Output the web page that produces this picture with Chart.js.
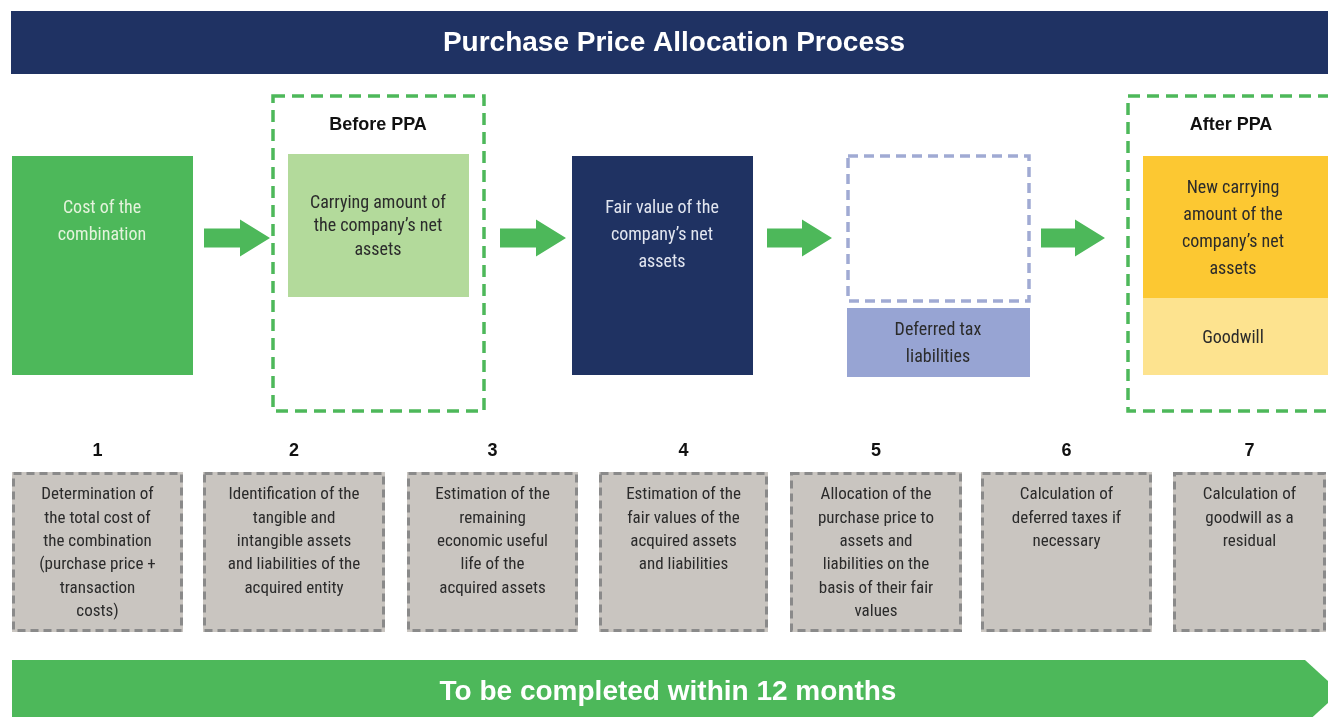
<!DOCTYPE html>
<html>
<head>
<meta charset="utf-8">
<script src="https://cdn.jsdelivr.net/npm/chart.js@4/dist/chart.umd.min.js"></script>
<style>
  html, body { margin: 0; padding: 0; background: #fff; }
  #container { width: 1328px; height: 717px; }
</style>
</head>
<body>
<div id="container">
  <canvas id="myChart"></canvas>
</div>
<script>
// texts of the diagram
const title = 'Purchase Price Allocation Process'
const footer = 'To be completed within 12 months'
const groupLabels = ['Before PPA', 'After PPA']
const stageLabels = [
  ['Cost of the', 'combination'],
  ['Carrying amount of', 'the company\u2019s net', 'assets'],
  ['Fair value of the', 'company\u2019s net', 'assets'],
  ['Deferred tax', 'liabilities'],
  ['New carrying', 'amount of the', 'company\u2019s net', 'assets'],
  ['Goodwill']
]
const stepNumbers = ['1', '2', '3', '4', '5', '6', '7']
const stepTexts = [
  ['Determination of', 'the total cost of', 'the combination', '(purchase price +', 'transaction', 'costs)'],
  ['Identification of the', 'tangible and', 'intangible assets', 'and liabilities of the', 'acquired entity'],
  ['Estimation of the', 'remaining', 'economic useful', 'life of the', 'acquired assets'],
  ['Estimation of the', 'fair values of the', 'acquired assets', 'and liabilities'],
  ['Allocation of the', 'purchase price to', 'assets and', 'liabilities on the', 'basis of their fair', 'values'],
  ['Calculation of', 'deferred taxes if', 'necessary'],
  ['Calculation of', 'goodwill as a', 'residual']
]

// layout (diagram units, same as the picture)
const stepX = [[12, 183], [203, 385], [407, 578], [599, 768], [790, 962], [981, 1152], [1173, 1326]]
const arrowX = [[204, 270], [500, 566], [767, 832], [1041, 1105]]
const NARROW = '"Liberation Sans Narrow", "Arial Narrow", "Roboto Condensed", sans-serif'
const BOLD = '"Liberation Sans", Arial, sans-serif'
const GREEN = '#4db85a'

const diagram = {
  id: 'diagram',
  afterDraw(chart) {
    const ctx = chart.ctx
    const xs = chart.scales.x, ys = chart.scales.y
    const X = v => xs.getPixelForValue(v)
    const Y = v => ys.getPixelForValue(v)

    const rect = (x0, y0, x1, y1, fill) => {
      ctx.fillStyle = fill
      ctx.fillRect(X(x0), Y(y0), X(x1) - X(x0), Y(y1) - Y(y0))
    }
    const dashed = (x0, y0, x1, y1, color, dash, width) => {
      ctx.save()
      ctx.strokeStyle = color
      ctx.lineWidth = width
      ctx.setLineDash(dash)
      ctx.strokeRect(X(x0), Y(y0), X(x1) - X(x0), Y(y1) - Y(y0))
      ctx.restore()
    }
    const lines = (arr, cx, y0, lh, font, color) => {
      ctx.font = font
      ctx.fillStyle = color
      ctx.textAlign = 'center'
      ctx.textBaseline = 'middle'
      arr.forEach((t, i) => ctx.fillText(t, X(cx), Y(y0 + i * lh)))
    }
    const arrow = (x0, x1, cy) => {
      const head = 30
      ctx.fillStyle = GREEN
      ctx.beginPath()
      ctx.moveTo(X(x0), Y(cy - 9.5))
      ctx.lineTo(X(x1 - head), Y(cy - 9.5))
      ctx.lineTo(X(x1 - head), Y(cy - 18.5))
      ctx.lineTo(X(x1), Y(cy))
      ctx.lineTo(X(x1 - head), Y(cy + 18.5))
      ctx.lineTo(X(x1 - head), Y(cy + 9.5))
      ctx.lineTo(X(x0), Y(cy + 9.5))
      ctx.closePath()
      ctx.fill()
    }

    ctx.save()
    // title band
    rect(11, 11, 1328, 74, '#1f3263')
    ctx.font = 'bold 28px ' + BOLD
    ctx.fillStyle = '#ffffff'
    ctx.textAlign = 'center'
    ctx.textBaseline = 'middle'
    ctx.fillText(title, X(674), Y(43))

    // top row
    rect(12, 156, 193, 375, GREEN)
    lines(stageLabels[0], 102, 208, 27, '18px ' + NARROW, '#e4f3dc')

    dashed(273, 96, 484, 411, GREEN, [12, 7], 3.5)
    lines([groupLabels[0]], 378, 125, 0, 'bold 18px ' + BOLD, '#111')
    rect(288, 154, 469, 297, '#b3da9b')
    lines(stageLabels[1], 378, 203, 23.5, '18px ' + NARROW, '#2b2b2b')

    rect(572, 156, 753, 375, '#1f3262')
    lines(stageLabels[2], 662, 208, 27, '18px ' + NARROW, '#e2e6f0')

    dashed(848, 156, 1029, 301, '#a0aad3', [10, 6], 3.5)
    rect(847, 308, 1030, 377, '#97a4d3')
    lines(stageLabels[3], 938, 330, 27, '18px ' + NARROW, '#2b2b2b')

    rect(1143, 156, 1328, 298, '#fcc832')
    rect(1143, 298, 1328, 375, '#fde38f')
    dashed(1128, 96, 1345, 411, GREEN, [12, 7], 3.5)
    lines([groupLabels[1]], 1231, 125, 0, 'bold 18px ' + BOLD, '#111')
    lines(stageLabels[4], 1233, 188, 27.3, '18px ' + NARROW, '#2b2b2b')
    lines(stageLabels[5], 1233, 338, 0, '18px ' + NARROW, '#2b2b2b')

    arrowX.forEach(a => arrow(a[0], a[1], 238))

    // step row
    stepX.forEach((sx, i) => {
      const cx = (sx[0] + sx[1]) / 2
      lines([stepNumbers[i]], cx, 451, 0, 'bold 18px ' + BOLD, '#111')
      rect(sx[0], 472, sx[1], 632, '#c9c5c0')
      dashed(sx[0] + 1.5, 473.5, sx[1] - 1.5, 630.5, '#8a8a8a', [8, 5], 3)
      lines(stepTexts[i], cx, 495, 23.4, '17px ' + NARROW, '#2b2b2b')
    })

    // footer chevron
    ctx.fillStyle = GREEN
    ctx.beginPath()
    ctx.moveTo(X(12), Y(660))
    ctx.lineTo(X(1305), Y(660))
    ctx.lineTo(X(1340), Y(692))
    ctx.lineTo(X(1305), Y(724))
    ctx.lineTo(X(12), Y(724))
    ctx.closePath()
    ctx.fill()
    ctx.font = 'bold 28px ' + BOLD
    ctx.fillStyle = '#ffffff'
    ctx.textAlign = 'center'
    ctx.textBaseline = 'middle'
    ctx.fillText(footer, X(668), Y(692))
    ctx.restore()
  }
}

new Chart(document.getElementById('myChart').getContext('2d'), {
  type: 'scatter',
  data: { datasets: [{ data: [], pointRadius: 0 }] },
  options: {
    responsive: true,
    maintainAspectRatio: false,
    animation: false,
    layout: { padding: 0 },
    plugins: { legend: { display: false }, tooltip: { enabled: false } },
    scales: {
      x: { type: 'linear', min: 0, max: 1328, display: false },
      y: { type: 'linear', min: 0, max: 717, reverse: true, display: false }
    }
  },
  plugins: [diagram]
})
</script>
</body>
</html>
